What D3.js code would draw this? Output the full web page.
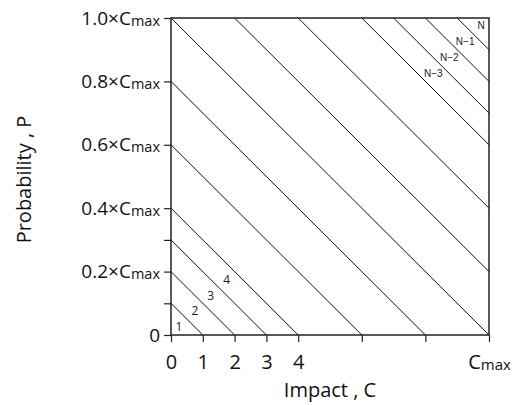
<!DOCTYPE html>
<html>
<head>
<meta charset="utf-8">
<script src="https://cdn.jsdelivr.net/npm/d3@7"></script>
<style>
  body { margin: 0; background: #fff; }
  svg text { font-family: "Open Sans", "Noto Sans", sans-serif; fill: #111; }
</style>
</head>
<body>
<div id="chart"></div>
<script>
// tick positions (in units of Cmax/10) and their labels
var xTicks = [0, 1, 2, 3, 4, 6, 8, 10];
var xTickLabels = ["0", "1", "2", "3", "4", "", "", "C|max"];
var yTicks = [0, 1, 2, 3, 4, 6, 8, 10];
var yTickLabels = ["0", "", "0.2×C|max", "", "0.4×C|max", "0.6×C|max", "0.8×C|max", "1.0×C|max"];

// iso-risk lines P + C = k
var riskLevels = [1, 2, 3, 4, 6, 8, 10, 12, 14, 16, 17, 18, 19];

// region labels, placed on the diagonal at the middle of each band
var lowLabels = ["1", "2", "3", "4"];
var lowMids = [0.5, 1.5, 2.5, 3.5];
var highLabels = ["N−3", "N−2", "N−1", "N"];
var highMids = [16.5, 17.5, 18.5, 19.5];

var width = 514, height = 405;
var margin = {top: 18, right: 25, bottom: 70, left: 171};

var x = d3.scaleLinear().domain([0, 10]).range([margin.left, width - margin.right]);
var y = d3.scaleLinear().domain([0, 10]).range([height - margin.bottom, margin.top]);

var svg = d3.select("#chart").append("svg")
    .attr("width", width)
    .attr("height", height);

// lines
var line = d3.line()
    .x(function(d) { return x(d[0]); })
    .y(function(d) { return y(d[1]); });

svg.append("g")
  .selectAll("path")
  .data(riskLevels)
  .enter().append("path")
    .attr("d", function(k) {
      var x0 = Math.max(0, k - 10), x1 = Math.min(10, k);
      return line([[x0, k - x0], [x1, k - x1]]);
    })
    .attr("fill", "none")
    .attr("stroke", "#111")
    .attr("stroke-width", 1);

// frame
svg.append("rect")
    .attr("x", x(0))
    .attr("y", y(10))
    .attr("width", x(10) - x(0))
    .attr("height", y(0) - y(10))
    .attr("fill", "none")
    .attr("stroke", "#222")
    .attr("stroke-width", 1.5);

// helper: write "C|max" as C with subscript
function writeLabel(sel, str, sub) {
  var parts = str.split("|");
  sel.text(null);
  sel.append("tspan").text(parts[0]);
  if (parts.length > 1) {
    sel.append("tspan")
      .attr("font-size", sub)
      .attr("dy", "1")
      .text(parts[1]);
  }
}

// x axis
var xAxis = d3.axisBottom(x)
    .tickValues(xTicks)
    .tickSize(7)
    .tickSizeOuter(0)
    .tickPadding(13)
    .tickFormat(function(d, i) { return xTickLabels[i]; });

var gx = svg.append("g")
    .attr("transform", "translate(0," + y(0) + ")")
    .call(xAxis);
gx.select(".domain").remove();
gx.selectAll("line").attr("stroke", "#222").attr("stroke-width", 1.2);
gx.selectAll("text")
    .attr("font-size", "20px")
    .attr("fill", "#111")
    .each(function(d, i) { writeLabel(d3.select(this), xTickLabels[i], "15px"); });

// y axis
var yAxis = d3.axisLeft(y)
    .tickValues(yTicks)
    .tickSize(7)
    .tickSizeOuter(0)
    .tickPadding(4)
    .tickFormat(function(d, i) { return yTickLabels[i]; });

var gy = svg.append("g")
    .attr("transform", "translate(" + x(0) + ",0)")
    .call(yAxis);
gy.select(".domain").remove();
gy.selectAll("line").attr("stroke", "#222").attr("stroke-width", 1.2);
gy.selectAll("text")
    .attr("font-size", "19px")
    .attr("fill", "#111")
    .each(function(d, i) { writeLabel(d3.select(this), yTickLabels[i], "14.5px"); });

// region labels
svg.append("g")
  .selectAll("text")
  .data(lowLabels)
  .enter().append("text")
    .attr("x", function(d, i) { return x(lowMids[i] / 2); })
    .attr("y", function(d, i) { return y(lowMids[i] / 2); })
    .attr("text-anchor", "middle")
    .attr("dy", "0.35em")
    .attr("font-size", "12px")
    .style("fill", "#222")
    .text(function(d) { return d; });

svg.append("g")
  .selectAll("text")
  .data(highLabels)
  .enter().append("text")
    .attr("x", function(d, i) { return x(highMids[i] / 2); })
    .attr("y", function(d, i) { return y(highMids[i] / 2); })
    .attr("text-anchor", "middle")
    .attr("dy", "0.35em")
    .attr("font-size", "10px")
    .style("font-family", "Arial, 'Liberation Sans', sans-serif")
    .style("fill", "#222")
    .text(function(d) { return d; });

// axis titles
svg.append("text")
    .attr("x", (x(0) + x(10)) / 2)
    .attr("y", 397)
    .attr("text-anchor", "middle")
    .attr("font-size", "20px")
    .text("Impact , C");

svg.append("text")
    .attr("transform", "translate(31," + (y(5) + 3) + ") rotate(-90)")
    .attr("text-anchor", "middle")
    .attr("font-size", "20px")
    .text("Probability , P");
</script>
</body>
</html>
